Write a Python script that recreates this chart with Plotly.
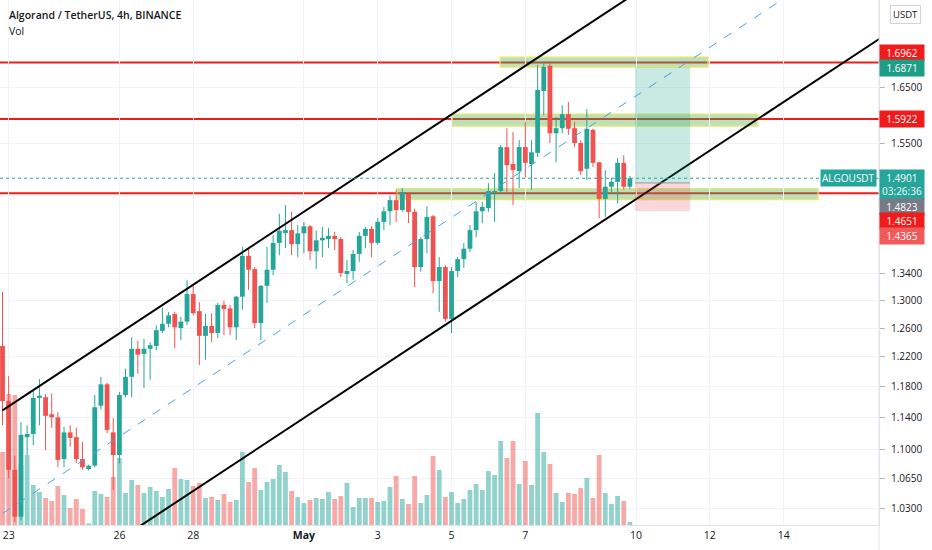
import math
import pandas as pd
import plotly.graph_objects as go

# ---------------- data (ALGO/USDT, 4h, BINANCE) ----------------
times = pd.date_range("2021-04-22 20:00", periods=103, freq="4h")

open_ = [1.235, 1.161, 1.075, 1.020, 1.115, 1.119, 1.165, 1.166, 1.144, 1.140,
         1.088, 1.121, 1.115, 1.088, 1.076, 1.080, 1.155, 1.183, 1.121, 1.093,
         1.169, 1.193, 1.231, 1.224, 1.231, 1.235, 1.256, 1.266, 1.280, 1.260,
         1.269, 1.309, 1.284, 1.249, 1.263, 1.253, 1.293, 1.288, 1.261, 1.305,
         1.366, 1.346, 1.267, 1.321, 1.345, 1.386, 1.403, 1.406, 1.384, 1.401,
         1.412, 1.373, 1.390, 1.392, 1.397, 1.392, 1.340, 1.343, 1.369, 1.397,
         1.408, 1.386, 1.419, 1.436, 1.454, 1.438, 1.464, 1.435, 1.349, 1.392,
         1.428, 1.328, 1.349, 1.273, 1.343, 1.361, 1.377, 1.406, 1.436, 1.441,
         1.467, 1.469, 1.543, 1.514, 1.502, 1.543, 1.514, 1.533, 1.643, 1.690,
         1.567, 1.576, 1.601, 1.576, 1.550, 1.506, 1.573, 1.517, 1.456, 1.476,
         1.484, 1.516, 1.476]

high = [1.312, 1.194, 1.092, 1.134, 1.130, 1.174, 1.190, 1.170, 1.171, 1.147,
        1.128, 1.130, 1.127, 1.109, 1.081, 1.169, 1.193, 1.185, 1.139, 1.173,
        1.204, 1.247, 1.242, 1.245, 1.240, 1.264, 1.289, 1.283, 1.283, 1.276,
        1.330, 1.321, 1.297, 1.280, 1.281, 1.296, 1.299, 1.293, 1.306, 1.380,
        1.378, 1.349, 1.322, 1.380, 1.398, 1.432, 1.446, 1.435, 1.414, 1.419,
        1.414, 1.405, 1.411, 1.409, 1.403, 1.395, 1.360, 1.375, 1.403, 1.411,
        1.412, 1.425, 1.443, 1.462, 1.471, 1.474, 1.466, 1.440, 1.395, 1.444,
        1.430, 1.364, 1.352, 1.349, 1.364, 1.386, 1.414, 1.451, 1.451, 1.482,
        1.499, 1.547, 1.576, 1.569, 1.555, 1.587, 1.555, 1.692, 1.695, 1.696,
        1.596, 1.617, 1.623, 1.587, 1.555, 1.610, 1.575, 1.518, 1.504, 1.491,
        1.524, 1.529, 1.494]

low = [1.130, 1.065, 1.014, 1.016, 1.093, 1.105, 1.130, 1.099, 1.127, 1.078,
       1.078, 1.103, 1.083, 1.075, 1.074, 1.078, 1.150, 1.120, 1.051, 1.083,
       1.166, 1.166, 1.197, 1.178, 1.189, 1.229, 1.253, 1.261, 1.232, 1.243,
       1.264, 1.278, 1.209, 1.216, 1.240, 1.246, 1.250, 1.250, 1.243, 1.286,
       1.315, 1.260, 1.243, 1.296, 1.337, 1.367, 1.378, 1.367, 1.364, 1.370,
       1.360, 1.346, 1.364, 1.378, 1.375, 1.334, 1.325, 1.330, 1.357, 1.378,
       1.364, 1.383, 1.406, 1.414, 1.419, 1.435, 1.417, 1.319, 1.342, 1.370,
       1.310, 1.283, 1.269, 1.253, 1.334, 1.348, 1.372, 1.395, 1.417, 1.435,
       1.419, 1.466, 1.466, 1.446, 1.474, 1.491, 1.471, 1.526, 1.599, 1.550,
       1.517, 1.567, 1.564, 1.543, 1.496, 1.487, 1.509, 1.425, 1.427, 1.466,
       1.449, 1.471, 1.472]

close = [1.161, 1.075, 1.020, 1.118, 1.119, 1.165, 1.168, 1.142, 1.140, 1.087,
         1.121, 1.114, 1.088, 1.078, 1.080, 1.153, 1.183, 1.124, 1.093, 1.169,
         1.193, 1.231, 1.223, 1.231, 1.236, 1.257, 1.266, 1.278, 1.261, 1.269,
         1.309, 1.281, 1.249, 1.263, 1.253, 1.293, 1.287, 1.261, 1.305, 1.366,
         1.345, 1.267, 1.321, 1.345, 1.386, 1.405, 1.406, 1.384, 1.401, 1.412,
         1.373, 1.390, 1.394, 1.397, 1.392, 1.340, 1.343, 1.369, 1.397, 1.408,
         1.386, 1.419, 1.436, 1.454, 1.438, 1.466, 1.435, 1.349, 1.392, 1.427,
         1.328, 1.349, 1.273, 1.343, 1.361, 1.377, 1.406, 1.436, 1.443, 1.469,
         1.469, 1.543, 1.512, 1.504, 1.543, 1.516, 1.534, 1.645, 1.688, 1.567,
         1.576, 1.601, 1.575, 1.550, 1.502, 1.575, 1.516, 1.456, 1.476, 1.484,
         1.516, 1.476, 1.490]

volume_m = [3.65, 6.55, 6.5, 3.0, 3.5, 2.0, 1.65, 1.35, 1.2, 1.95,
            1.5, 0.85, 1.3, 0.8, 0.08, 1.7, 1.55, 1.4, 2.4, 3.35,
            1.6, 2.25, 2.0, 1.6, 1.9, 1.7, 1.4, 1.8, 2.85, 2.3,
            2.25, 1.95, 2.1, 1.35, 1.4, 1.25, 1.55, 1.15, 1.25, 3.65,
            2.15, 2.85, 1.75, 2.15, 2.3, 3.0, 2.65, 1.7, 1.4, 1.1,
            1.25, 1.35, 1.3, 1.65, 1.3, 1.45, 2.1, 0.9, 1.35, 1.35,
            1.35, 1.15, 1.2, 1.9, 2.45, 1.3, 1.05, 2.45, 1.1, 1.5,
            3.45, 2.75, 1.4, 1.65, 1.1, 1.3, 1.75, 2.05, 1.75, 2.7,
            2.5, 4.2, 3.35, 4.2, 2.05, 3.2, 2.0, 5.6, 3.65, 3.05,
            1.6, 1.15, 1.6, 1.55, 1.85, 2.35, 1.35, 3.5, 1.6, 1.05,
            1.45, 1.2, 0.15]

# axis ticks
date_ticks = ["2021-04-23", "2021-04-26", "2021-04-28", "2021-05-01", "2021-05-03",
              "2021-05-05", "2021-05-07", "2021-05-10", "2021-05-12", "2021-05-14"]
date_labels = ["23", "26", "28", "<b>May</b>", "3", "5", "7", "10", "12", "14"]
price_ticks = [1.03, 1.065, 1.10, 1.14, 1.18, 1.22, 1.26, 1.30, 1.34, 1.55, 1.65]
price_labels = ["%.4f" % v for v in price_ticks]

# drawings
red_levels = [1.6962, 1.5922, 1.4651]
zone_x0 = ["2021-05-06 07:36", "2021-05-05 00:24", "2021-05-03 12:24"]
zone_x1 = ["2021-05-11 22:48", "2021-05-13 07:12", "2021-05-14 22:24"]
zone_hi = [1.7067, 1.6012, 1.4731]
zone_lo = [1.6877, 1.5798, 1.4550]

channel_upper = (["2021-04-22 20:00", "2021-05-10 08:00"], [1.149, 1.8505])
channel_lower = (["2021-04-26 04:00", "2021-05-17 00:00"], [0.9987, 1.7612])
channel_mid = (["2021-04-22 20:00", "2021-05-14 12:00"], [1.0238, 1.8470])

pos_x = ["2021-05-09 23:24", "2021-05-11 11:12"]
pos_target, pos_entry, pos_stop = 1.6871, 1.4823, 1.4365
last_price = 1.4901

# ---------------- styling ----------------
UP, DOWN = "#26a69a", "#ef5350"
UP_VOL, DOWN_VOL = "rgba(38,166,154,0.5)", "rgba(239,83,80,0.5)"
RED = "#f01c1c"
GRID = "#f0f3fa"
AXLINE = "#e0e3eb"
TXT = "#131722"
FONT = "Open Sans, Noto Sans, sans-serif"
BAR_MS = 0.78 * 4 * 3600 * 1000  # candle body / volume width (78% of a 4h slot)

is_up = [c >= o for o, c in zip(open_, close)]
vol_colors = [UP_VOL if u else DOWN_VOL for u in is_up]

fig = go.Figure()
# volume (bottom overlay)
fig.add_trace(go.Bar(x=times, y=volume_m, width=BAR_MS,
                     marker=dict(color=vol_colors, line_width=0),
                     yaxis="y", hoverinfo="skip"))

# candles: wicks + bodies, by direction
for want_up, col in [(True, UP), (False, DOWN)]:
    idx = [i for i, u in enumerate(is_up) if u == want_up]
    wx, wy = [], []
    for i in idx:
        wx += [times[i], times[i], None]
        wy += [low[i], high[i], None]
    fig.add_trace(go.Scatter(x=wx, y=wy, mode="lines", yaxis="y2",
                             line=dict(color=col, width=1), hoverinfo="skip"))
    base = [min(open_[i], close[i]) for i in idx]
    span = [max(abs(close[i] - open_[i]), 0.0015) for i in idx]
    fig.add_trace(go.Bar(x=[times[i] for i in idx], y=span, base=base, width=BAR_MS,
                         yaxis="y2", marker=dict(color=col, line_width=0), hoverinfo="skip"))

shapes = []
# red horizontal levels (under the zones and candles)
for lv in red_levels:
    shapes.append(dict(type="line", xref="paper", x0=0, x1=1, yref="y2", y0=lv, y1=lv,
                       layer="below", line=dict(color=RED, width=2)))
# highlighted zones
for a, b, hi, lo in zip(zone_x0, zone_x1, zone_hi, zone_lo):
    shapes.append(dict(type="rect", xref="x", yref="y2", x0=a, x1=b, y0=lo, y1=hi,
                       layer="below", fillcolor="rgba(76,175,80,0.38)",
                       line=dict(color="#ece76a", width=1.2)))
# channel
for (xs, ys), col, dash, w in [(channel_upper, "#000000", "solid", 2),
                               (channel_lower, "#000000", "solid", 2),
                               (channel_mid, "#4aa3ea", "dash", 1)]:
    shapes.append(dict(type="line", xref="x", yref="y2", x0=xs[0], x1=xs[1], y0=ys[0], y1=ys[1],
                       line=dict(color=col, width=w, dash=dash)))
# long position tool
shapes.append(dict(type="rect", xref="x", yref="y2", x0=pos_x[0], x1=pos_x[1],
                   y0=pos_entry, y1=pos_target, fillcolor="rgba(8,153,129,0.22)", line_width=0))
shapes.append(dict(type="rect", xref="x", yref="y2", x0=pos_x[0], x1=pos_x[1],
                   y0=pos_stop, y1=pos_entry, fillcolor="rgba(242,54,69,0.2)", line_width=0))
shapes.append(dict(type="line", xref="x", yref="y2", x0=pos_x[0], x1=pos_x[1],
                   y0=pos_entry, y1=pos_entry, line=dict(color="#9598a1", width=1)))
# last price dotted line
shapes.append(dict(type="line", xref="paper", x0=0, x1=1, yref="y2", y0=last_price, y1=last_price,
                   line=dict(color=UP, width=1, dash="dot")))
# separator between chart and price scale extends through time scale
shapes.append(dict(type="line", xref="paper", yref="paper", x0=1, x1=1, y0=-0.06, y1=1,
                   line=dict(color=AXLINE, width=1)))

ann = []
ann.append(dict(xref="paper", yref="paper", x=0, y=1, xanchor="left", yanchor="top",
                xshift=7, yshift=-6, showarrow=False, text="Algorand / TetherUS, 4h, BINANCE",
                font=dict(family=FONT, size=10.5, color=TXT, weight=600)))
ann.append(dict(xref="paper", yref="paper", x=0, y=1, xanchor="left", yanchor="top",
                xshift=7, yshift=-22, showarrow=False, text="Vol",
                font=dict(family=FONT, size=10.5, color=TXT)))
ann.append(dict(xref="paper", yref="paper", x=1, y=1, xanchor="left", yanchor="top",
                xshift=11, yshift=-5, showarrow=False, text="USDT", bgcolor="white",
                bordercolor="#d1d4dc", borderwidth=1, borderpad=2,
                font=dict(family=FONT, size=9.5, color=TXT)))


def price_label(price, text, bg, yshift):
    return dict(xref="paper", yref="y2", x=1, y=math.log10(price), xanchor="left",
                yanchor="middle", yshift=yshift, showarrow=False, text=text,
                bgcolor=bg, borderpad=1, width=42, align="center",
                font=dict(family=FONT, size=10, color="white"))


ann.append(price_label(1.6962, "1.6962", RED, 10))
ann.append(price_label(1.6871, "1.6871", "#1e9e87", -1))
ann.append(price_label(1.5922, "1.5922", RED, 0))
ann.append(price_label(last_price, "1.4901<br>03:26:36", UP, -6))
ann.append(price_label(1.4823, "1.4823", "#787b86", -24))
ann.append(price_label(1.4651, "1.4651", RED, -28))
ann.append(price_label(1.4365, "1.4365", "#f05a5a", -25))
ann.append(dict(xref="paper", yref="y2", x=1, y=math.log10(last_price), xanchor="right",
                yanchor="middle", xshift=-2, showarrow=False, text="ALGOUSDT", bgcolor=UP,
                borderpad=1, font=dict(family=FONT, size=10, color="white")))

fig.update_layout(
    width=932, height=550,
    margin=dict(l=0, r=53, t=0, b=25),
    paper_bgcolor="white", plot_bgcolor="white",
    showlegend=False, barmode="overlay",
    font=dict(family=FONT, size=10, color=TXT),
    xaxis=dict(type="date", range=["2021-04-22 18:22", "2021-05-16 14:00"],
               tickvals=date_ticks, ticktext=date_labels, showgrid=True, gridcolor=GRID,
               showline=True, linecolor=AXLINE, ticks="", zeroline=False,
               tickfont=dict(size=10.5, color=TXT)),
    yaxis=dict(range=[0, 26.25], visible=False, showgrid=False, zeroline=False),
    yaxis2=dict(type="log", overlaying="y", side="right",
                range=[math.log10(1.01058), math.log10(1.8193)],
                tickvals=price_ticks, ticktext=price_labels, showgrid=True, gridcolor=GRID,
                showline=True, linecolor=AXLINE, ticks="outside", ticklen=5, tickcolor="#b2b5be",
                ticklabelstandoff=4, zeroline=False, tickfont=dict(size=10, color=TXT)),
    shapes=shapes, annotations=ann,
)

fig.write_html("out.html", config={"displayModeBar": False},
               post_script="document.body.style.margin='0';")
